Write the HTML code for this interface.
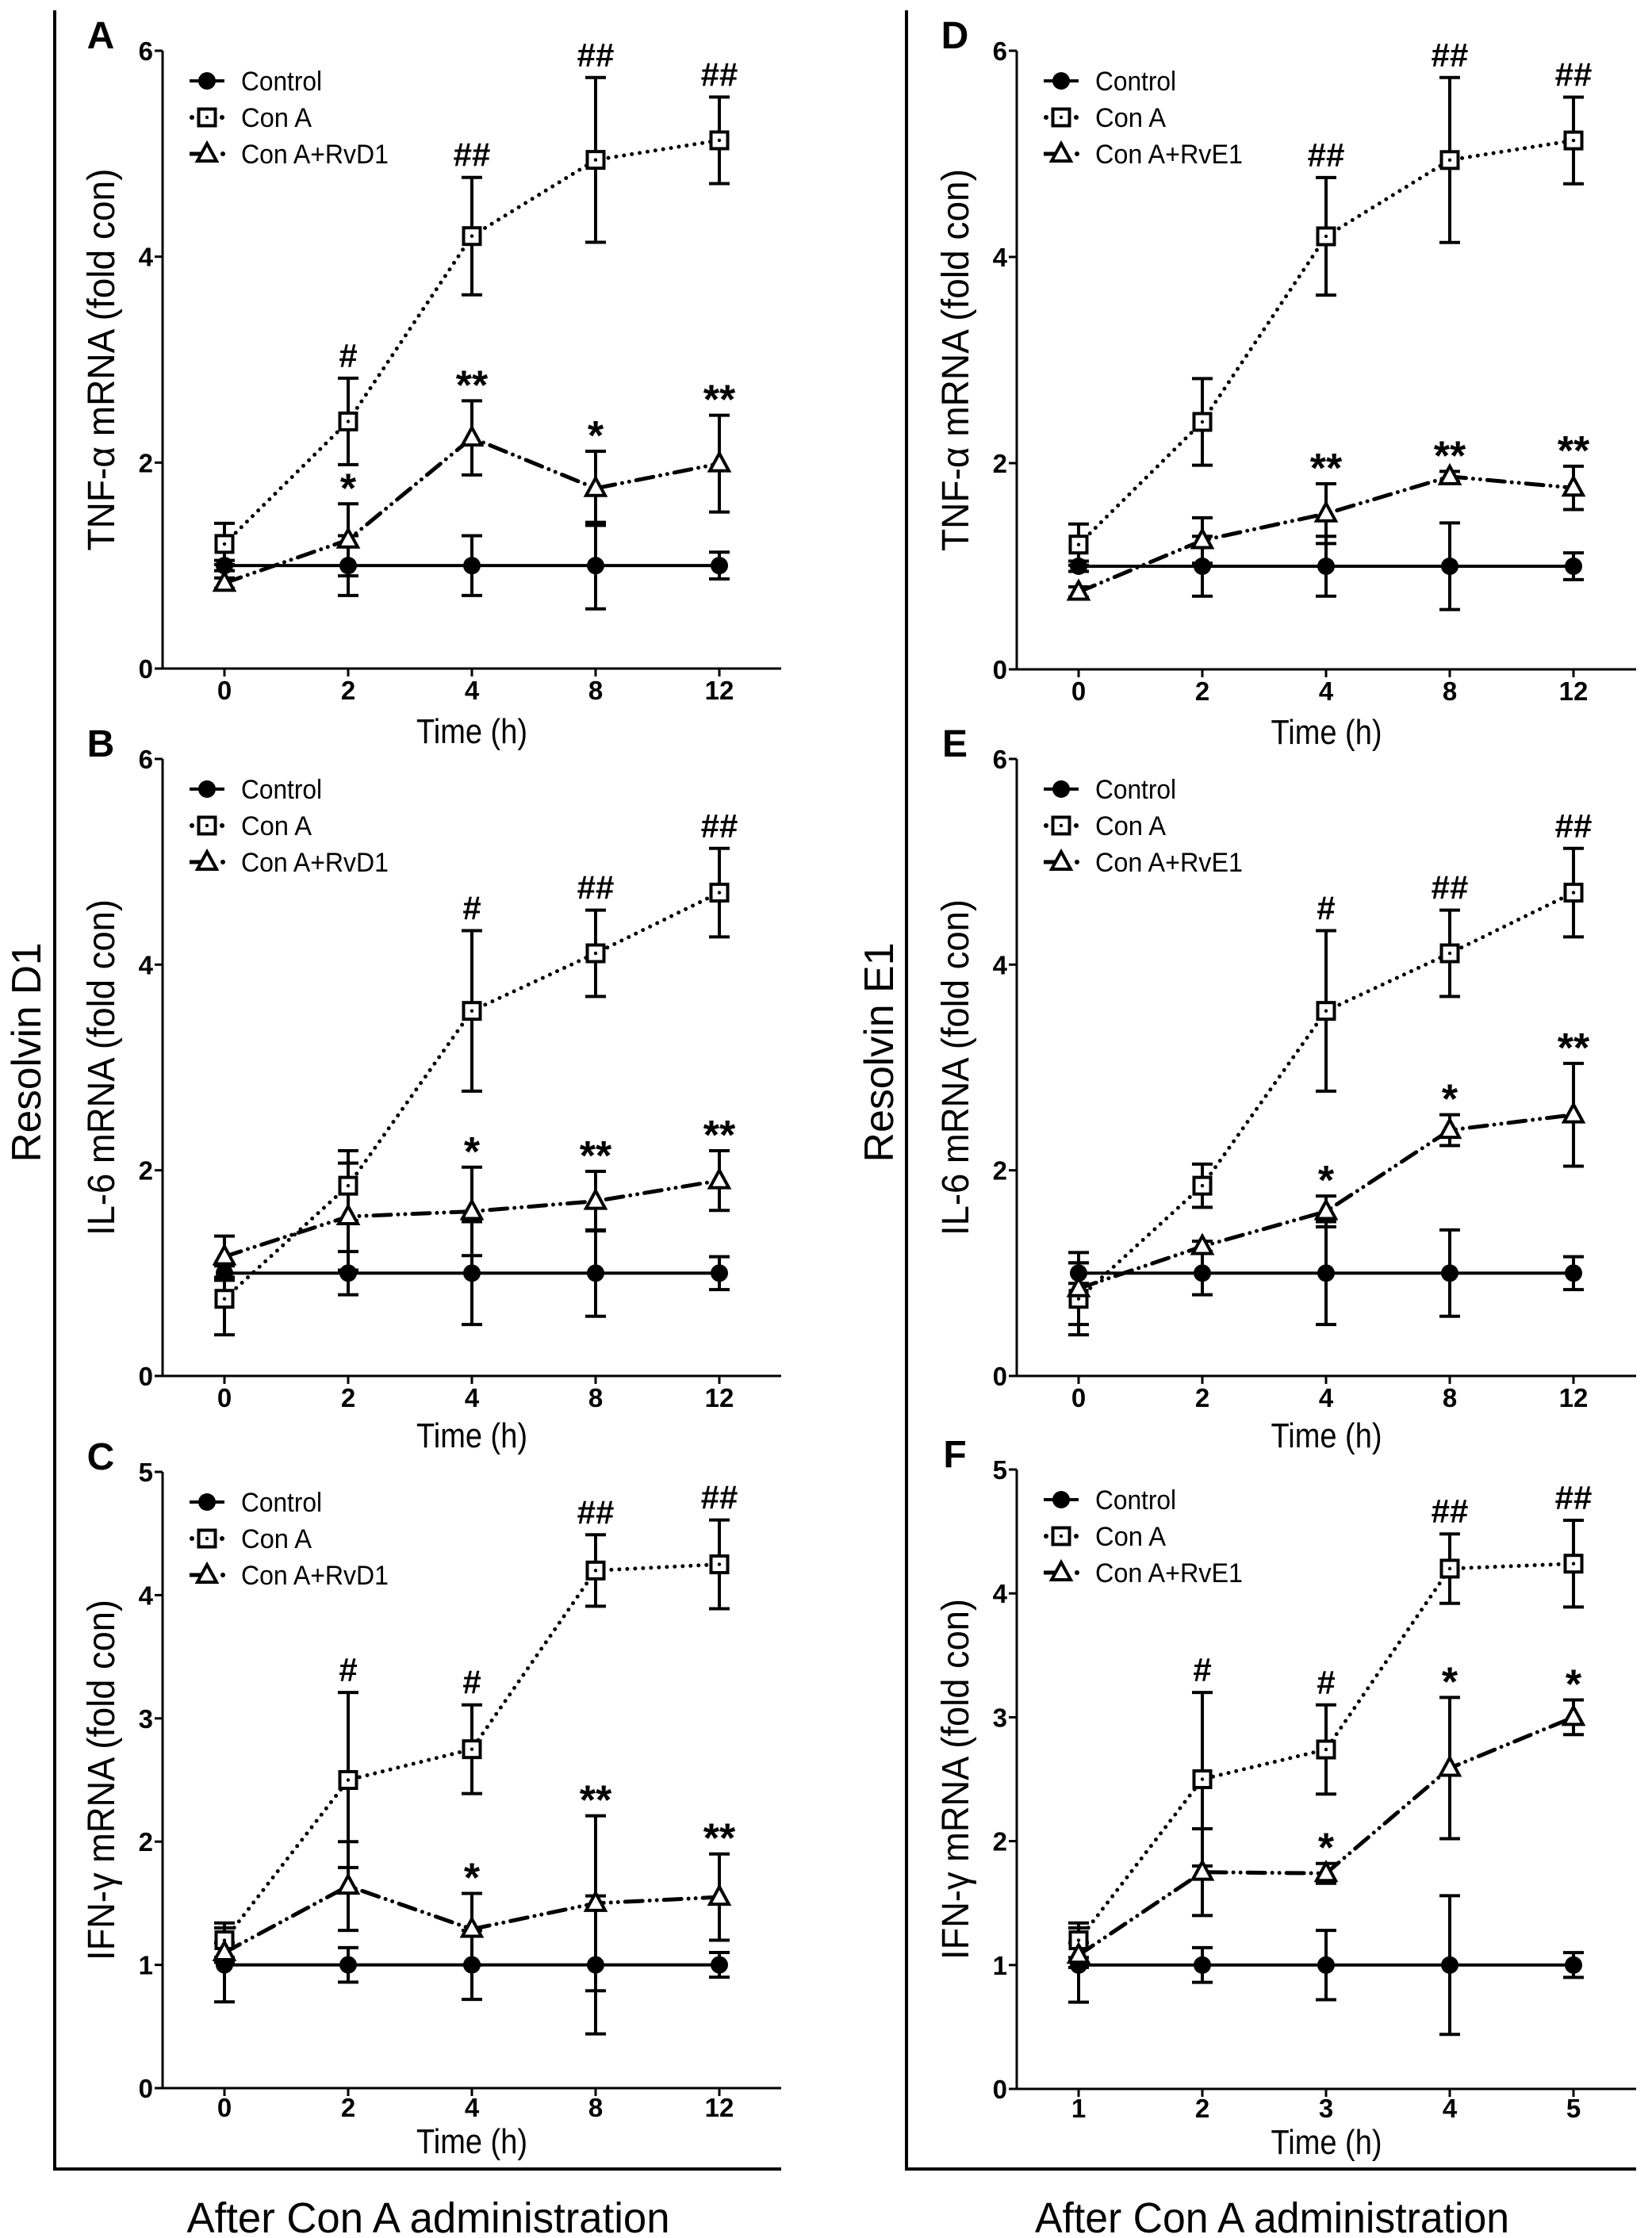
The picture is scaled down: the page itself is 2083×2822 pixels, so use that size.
<!DOCTYPE html>
<html><head><meta charset="utf-8"><style>
html,body{margin:0;padding:0;background:#fff;}
svg{display:block;font-family:"Liberation Sans",Arial,sans-serif;}
</style></head><body>
<svg id="fig" width="2083" height="2822" viewBox="0 0 2083 2822" xmlns="http://www.w3.org/2000/svg"></svg>
<script>
// ---- data ----
const timeLabels = ["0","2","4","8","12"];
const timeLabelsF = ["1","2","3","4","5"];
const seriesNames = ["Control","Con A"];
// Panel A TNF-α (RvD1)
const aControl = [1,1,1,1,1];
const aControlErr = [0.05,0.29,0.29,0.42,0.13];
const aConA = [1.21,2.4,4.2,4.94,5.13];
const aConAErr = [0.2,0.42,0.57,0.8,0.42];
const aRv = [0.83,1.25,2.24,1.75,1.99];
const aRvErr = [0.05,0.35,0.36,0.36,0.47];
const aConAMarks = ["","#","##","##","##"];
const aRvMarks = ["","*","**","*","**"];
// Panel B IL-6 (RvD1)
const bControl = [1,1,1,1,1];
const bControlErr = [0.07,0.21,0.5,0.42,0.16];
const bConA = [0.75,1.85,3.55,4.11,4.7];
const bConAErr = [0.35,0.34,0.78,0.42,0.43];
const bRv = [1.16,1.55,1.6,1.7,1.9];
const bRvErr = [0.2,0.52,0.43,0.29,0.29];
const bConAMarks = ["","","#","##","##"];
const bRvMarks = ["","","*","**","**"];
// Panel C IFN-γ (RvD1)
const cControl = [1,1,1,1,1];
const cControlErr = [0.3,0.14,0.28,0.56,0.1];
const cConA = [1.2,2.5,2.75,4.2,4.25];
const cConAErr = [0.14,0.71,0.36,0.29,0.36];
const cRv = [1.1,1.64,1.29,1.5,1.55];
const cRvErr = [0.08,0.36,0.29,0.71,0.35];
const cConAMarks = ["","#","#","##","##"];
const cRvMarks = ["","","*","**","**"];
// Panel D TNF-α (RvE1)
const dControl = [1,1,1,1,1];
const dControlErr = [0.05,0.29,0.29,0.42,0.13];
const dConA = [1.21,2.4,4.2,4.94,5.13];
const dConAErr = [0.2,0.42,0.57,0.8,0.42];
const dRv = [0.75,1.25,1.51,1.87,1.76];
const dRvErr = [0.05,0.22,0.29,0.05,0.21];
const dConAMarks = ["","","##","##","##"];
const dRvMarks = ["","","**","**","**"];
// Panel E IL-6 (RvE1)
const eControl = [1,1,1,1,1];
const eControlErr = [0.1,0.21,0.5,0.42,0.16];
const eConA = [0.75,1.85,3.55,4.11,4.7];
const eConAErr = [0.35,0.21,0.78,0.42,0.43];
const eRv = [0.85,1.26,1.6,2.39,2.54];
const eRvErr = [0.35,0.05,0.15,0.15,0.5];
const eConAMarks = ["","","#","##","##"];
const eRvMarks = ["","","*","*","**"];
// Panel F IFN-γ (RvE1)
const fControl = [1,1,1,1,1];
const fControlErr = [0.3,0.14,0.28,0.56,0.1];
const fConA = [1.2,2.5,2.74,4.2,4.24];
const fConAErr = [0.14,0.7,0.36,0.28,0.35];
const fRv = [1.08,1.75,1.74,2.59,3.0];
const fRvErr = [0.1,0.35,0.08,0.57,0.14];
const fConAMarks = ["","#","#","##","##"];
const fRvMarks = ["","","*","*","*"];
const yTicks6 = [0,2,4,6];
const yTicks5 = [0,1,2,3,4,5];

const NS="http://www.w3.org/2000/svg";
const svg=document.getElementById('fig');
function mk(tag,attrs,parent,text){const e=document.createElementNS(NS,tag);for(const k in attrs)e.setAttribute(k,attrs[k]);if(text!==undefined)e.textContent=text;(parent||svg).appendChild(e);return e;}

const panels=[
 {id:'a',letter:'A',ax:205,end:985,yTop:64,y0:843,ymax:6,ticks:yTicks6,xl:timeLabels,lo:39,to:94,title:'TNF-α mRNA (fold con)',tl:482,rv:'Con A+RvD1',c:aControl,ce:aControlErr,k:aConA,ke:aConAErr,r:aRv,re:aRvErr,km:aConAMarks,rm:aRvMarks},
 {id:'b',letter:'B',ax:205,end:985,yTop:957,y0:1735,ymax:6,ticks:yTicks6,xl:timeLabels,lo:39,to:90,title:'IL-6 mRNA (fold con)',tl:424,rv:'Con A+RvD1',c:bControl,ce:bControlErr,k:bConA,ke:bConAErr,r:bRv,re:bRvErr,km:bConAMarks,rm:bRvMarks},
 {id:'c',letter:'C',ax:205,end:985,yTop:1856,y0:2633,ymax:5,ticks:yTicks5,xl:timeLabels,lo:36,to:82,title:'IFN-γ mRNA (fold con)',tl:455,rv:'Con A+RvD1',c:cControl,ce:cControlErr,k:cConA,ke:cConAErr,r:cRv,re:cRvErr,km:cConAMarks,rm:cRvMarks},
 {id:'d',letter:'D',ax:1282,end:2063,yTop:64,y0:844,ymax:6,ticks:yTicks6,xl:timeLabels,lo:39,to:94,title:'TNF-α mRNA (fold con)',tl:482,rv:'Con A+RvE1',c:dControl,ce:dControlErr,k:dConA,ke:dConAErr,r:dRv,re:dRvErr,km:dConAMarks,rm:dRvMarks},
 {id:'e',letter:'E',ax:1282,end:2063,yTop:957,y0:1735,ymax:6,ticks:yTicks6,xl:timeLabels,lo:39,to:90,title:'IL-6 mRNA (fold con)',tl:424,rv:'Con A+RvE1',c:eControl,ce:eControlErr,k:eConA,ke:eConAErr,r:eRv,re:eRvErr,km:eConAMarks,rm:eRvMarks},
 {id:'f',letter:'F',ax:1282,end:2063,yTop:1853,y0:2634,ymax:5,ticks:yTicks5,xl:timeLabelsF,lo:36,to:82,title:'IFN-γ mRNA (fold con)',tl:455,rv:'Con A+RvE1',c:fControl,ce:fControlErr,k:fConA,ke:fConAErr,r:fRv,re:fRvErr,km:fConAMarks,rm:fRvMarks}
];

const SW=4;
const dashRv="22 9 0 9 0 9";
const dashK="0 10";

function drawMarker(g,type,x,y){
  let e;
  if(type==='c'){e=mk('circle',{cx:x,cy:y,r:11,fill:'#000'},g);}
  else if(type==='k'){e=mk('rect',{x:x-10.5,y:y-10.5,width:21,height:21,fill:'#fff',stroke:'#000','stroke-width':SW},g);
    mk('circle',{cx:x,cy:y,r:2.2,fill:'#000'},g);}
  else {e=mk('polygon',{points:`${x},${y-13} ${x+12},${y+9} ${x-12},${y+9}`,fill:'#fff',stroke:'#000','stroke-width':SW,'stroke-linejoin':'miter'},g);}
  return e;
}

mk('path',{d:'M69,13 V2735 H985',fill:'none',stroke:'#000','stroke-width':4,});
mk('path',{d:'M1143,13 V2735 H2063',fill:'none',stroke:'#000','stroke-width':4,});

function label(x,y,txt,fs,len,opts){
  const a={x:x,y:y,'font-size':fs,'text-anchor':'middle',fill:'#000'};
  if(len){a.textLength=len;a.lengthAdjust='spacingAndGlyphs';}
  Object.assign(a,opts||{});
  return mk('text',a,svg,txt);
}
let t;
t=label(540,2815,'After Con A administration',54,609);


t=label(1604,2815,'After Con A administration',54,598);


t=label(0,0,'Resolvin D1',52,277,{transform:'translate(51,1327) rotate(-90)'});


t=label(0,0,'Resolvin E1',52,277,{transform:'translate(1126,1327) rotate(-90)'});



panels.forEach(p=>{
  const g=mk('g',{});
  
  
  const x0=p.ax+78, step=156;
  const X=i=>x0+i*step;
  const Y=v=>p.y0-(v/p.ymax)*(p.y0-p.yTop);
  const ya=mk('line',{x1:p.ax,y1:p.yTop,x2:p.ax,y2:p.y0,stroke:'#000','stroke-width':3},g);
  
  
  const xa=mk('line',{x1:p.ax-10,y1:p.y0,x2:p.end,y2:p.y0,stroke:'#000','stroke-width':3},g);
  
  
  p.ticks.forEach(v=>{
    mk('line',{x1:p.ax-10,y1:Y(v),x2:p.ax,y2:Y(v),stroke:'#000','stroke-width':3},g);
    const tl=mk('text',{x:p.ax-12,y:Y(v)+12,'font-size':33,'font-weight':'bold','text-anchor':'end'},g,String(v));
    
    
  });
  p.xl.forEach((l,i)=>{
    mk('line',{x1:X(i),y1:p.y0,x2:X(i),y2:p.y0+10,stroke:'#000','stroke-width':3},g);
    const tl=mk('text',{x:X(i),y:p.y0+p.lo,'font-size':33,'font-weight':'bold','text-anchor':'middle'},g,l);
    
    
  });
  const xt=mk('text',{x:(p.ax+p.end)/2,y:p.y0+p.to,'font-size':44,'text-anchor':'middle',textLength:140,lengthAdjust:'spacingAndGlyphs'},g,'Time (h)');
  
  
  const yc=(p.yTop+p.y0)/2;
  const yt=mk('text',{x:0,y:0,'font-size':48,'text-anchor':'middle',textLength:p.tl,lengthAdjust:'spacingAndGlyphs',transform:`translate(${p.ax-61},${yc}) rotate(-90)`},g,p.title);
  
  
  const lt=mk('text',{x:p.ax-78,y:p.yTop-3,'font-size':48,'font-weight':'bold','text-anchor':'middle'},g,p.letter);
  
  

  const pts=arr=>arr.map((v,i)=>X(i)+','+Y(v)).join(' ');
  let l;
  l=mk('polyline',{points:pts(p.c),fill:'none',stroke:'#000','stroke-width':SW},g);
  
  
  l=mk('polyline',{points:pts(p.k),fill:'none',stroke:'#000','stroke-width':5,'stroke-dasharray':dashK,'stroke-linecap':'round'},g);
  
  
  l=mk('polyline',{points:pts(p.r),fill:'none',stroke:'#000','stroke-width':5,'stroke-dasharray':dashRv,'stroke-linecap':'round'},g);
  
  
  [[p.c,p.ce],[p.k,p.ke],[p.r,p.re]].forEach(([v,e])=>{
    v.forEach((val,i)=>{
      const x=X(i),yt2=Y(val+e[i]),yb=Y(val-e[i]);
      const eb=mk('path',{d:`M${x},${yt2}V${yb}M${x-13},${yt2}H${x+13}M${x-13},${yb}H${x+13}`,stroke:'#000','stroke-width':SW,fill:'none'},g);
      
      
    });
  });
  [['c',p.c],['k',p.k],['r',p.r]].forEach(([tp,v])=>{
    v.forEach((val,i)=>{
      const m=drawMarker(g,tp,X(i),Y(val));
      
      
    });
  });
  [[p.k,p.ke,p.km],[p.r,p.re,p.rm]].forEach(([v,e,ms])=>{
    ms.forEach((s,i)=>{
      if(!s)return;
      const top=Y(v[i]+e[i]);
      const isStar=s.indexOf('*')>=0;
      const sm=mk('text',{x:X(i),y:isStar?top-2:top-14,'font-size':isStar?52:42,'font-weight':'bold','text-anchor':'middle'},g,s);
      
      
    });
  });
  const names=[seriesNames[0],seriesNames[1],p.rv];
  const lens=[102,89,186];
  const types=['c','k','r'];
  names.forEach((nm,j)=>{
    const ry=p.yTop+38+j*46;
    const lg=mk('g',{},g);
    
    
    const x1=p.ax+34,x2=p.ax+78,xc=p.ax+56;
    if(types[j]==='c') mk('line',{x1:x1,y1:ry,x2:x2,y2:ry,stroke:'#000','stroke-width':SW},lg);
    else if(types[j]==='k'){mk('circle',{cx:x1+3,cy:ry,r:3,fill:'#000'},lg);mk('circle',{cx:x2-3,cy:ry,r:3,fill:'#000'},lg);}
    else {mk('line',{x1:x1,y1:ry,x2:xc,y2:ry,stroke:'#000','stroke-width':5},lg);mk('circle',{cx:x2-2,cy:ry,r:3,fill:'#000'},lg);}
    drawMarker(lg,types[j],xc,ry);
    mk('text',{x:p.ax+99,y:ry+12,'font-size':34,textLength:lens[j],lengthAdjust:'spacingAndGlyphs'},lg,nm);
  });
});
</script>
</body></html>
